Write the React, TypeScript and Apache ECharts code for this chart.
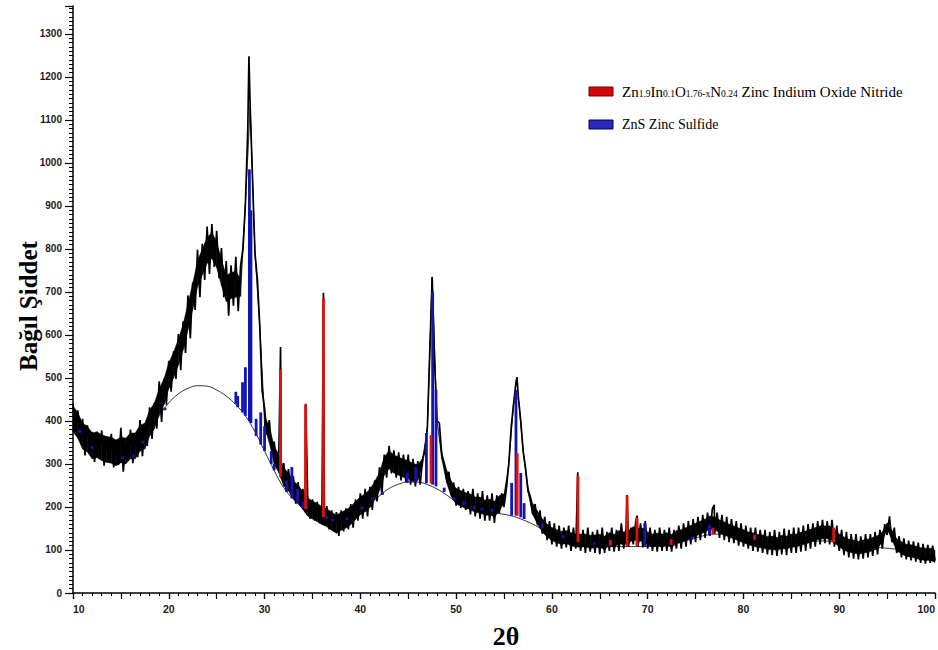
import React, { useEffect, useRef } from "react";
import * as echarts from "echarts";

// ---- Data ----
// Measured pattern, counts every 0.25° (2θ) from 10 to 100
const TRACE_START = 10;
const TRACE_STEP = 0.25;
const traceCounts = [
  440, 375, 425, 355,
  405, 320, 390, 330,
  375, 305, 372, 318,
  378, 296, 355, 312,
  370, 292, 352, 298,
  384, 282, 348, 312,
  380, 302, 368, 316,
  402, 318, 388, 342,
  432, 358, 442, 382,
  492, 398, 498, 438,
  540, 468, 562, 498,
  602, 518, 632, 558,
  692, 592, 722, 658,
  798, 688, 812, 728,
  852, 742, 858, 758,
  842, 732, 802, 688,
  772, 645, 762, 668,
  782, 655, 762, 800,
  905, 1080, 1130, 960,
  790, 730, 620, 470,
  430, 368, 402, 332,
  352, 292, 332, 268,
  302, 238, 288, 228,
  272, 208, 258, 203,
  242, 188, 227, 173,
  218, 168, 212, 162,
  208, 158, 202, 148,
  192, 142, 188, 133,
  192, 143, 197, 148,
  207, 152, 217, 168,
  232, 173, 242, 178,
  247, 193, 262, 213,
  292, 228, 322, 268,
  342, 278, 332, 268,
  327, 262, 322, 258,
  322, 252, 312, 248,
  307, 252, 312, 330,
  385, 560, 735, 540,
  400, 395, 320, 300,
  265, 282, 228, 257,
  203, 247, 198, 242,
  193, 237, 183, 242,
  178, 232, 173, 237,
  168, 227, 168, 232,
  163, 227, 185, 232,
  200, 242, 300, 385,
  440, 490, 455, 400,
  330, 290, 240, 222,
  183, 207, 158, 192,
  138, 177, 123, 167,
  113, 162, 108, 157,
  103, 152, 106, 157,
  98, 152, 103, 142,
  98, 147, 93, 152,
  96, 142, 93, 147,
  90, 152, 93, 142,
  98, 152, 96, 147,
  98, 162, 103, 150,
  108, 152, 113, 165,
  108, 162, 106, 167,
  103, 152, 98, 147,
  96, 152, 98, 147,
  98, 152, 96, 147,
  103, 157, 103, 162,
  108, 167, 113, 172,
  118, 177, 123, 182,
  128, 187, 133, 195,
  138, 187, 128, 182,
  123, 177, 118, 172,
  116, 167, 110, 162,
  108, 157, 103, 152,
  98, 152, 96, 147,
  93, 147, 90, 142,
  88, 147, 86, 142,
  90, 150, 88, 147,
  93, 152, 93, 152,
  96, 157, 98, 160,
  103, 162, 108, 167,
  113, 170, 116, 167,
  113, 170, 108, 157,
  98, 147, 88, 142,
  83, 137, 80, 137,
  78, 132, 80, 137,
  83, 137, 86, 142,
  90, 147, 103, 160,
  135, 178, 118, 152,
  93, 132, 83, 127,
  78, 122, 76, 120,
  73, 117, 70, 114,
  68, 112, 70, 110,
  75,
];

// Sharp reflections (2θ, counts) that fall between the 0.25° samples
const sharpPeaks: [number, number][] = [
  [28.37, 1248],
  [31.67, 572],
  [34.3, 440],
  [36.15, 698],
  [56.35, 502],
  [62.7, 281],
  [67.85, 228],
  [68.9, 180],
  [76.95, 205],
];

// Dense core of the noisy trace: centre and half-spread, every 0.5° from 10 to 100
const BAND_START = 10;
const BAND_STEP = 0.5;
const bandCenter = [
  405, 390, 365, 358, 342, 345, 338, 334, 332, 326,
  333, 330, 342, 342, 360, 365, 395, 412, 445, 468,
  505, 530, 560, 595, 642, 690, 742, 770, 797, 808,
  787, 745, 708, 715, 718, 710, 905, 1130, 790, 620,
  400, 367, 322, 300, 270, 258, 240, 230, 215, 200,
  193, 187, 180, 175, 167, 160, 167, 172, 180, 192,
  203, 210, 220, 238, 260, 295, 310, 300, 295, 290,
  287, 280, 280, 305, 385, 735, 400, 320, 272, 242,
  225, 220, 215, 212, 205, 205, 198, 200, 195, 208,
  220, 300, 440, 455, 330, 240, 195, 175, 157, 145,
  137, 132, 128, 130, 125, 122, 122, 122, 119, 120,
  121, 117, 125, 121, 130, 127, 130, 139, 135, 136,
  127, 122, 124, 122, 125, 121, 130, 132, 137, 142,
  147, 152, 157, 164, 162, 155, 150, 145, 141, 136,
  132, 127, 125, 121, 120, 116, 117, 114, 119, 117,
  122, 122, 126, 129, 133, 137, 141, 141, 141, 132,
  122, 115, 110, 108, 105, 108, 110, 114, 118, 131,
  156, 135, 112, 105, 99, 98, 95, 91, 90, 90,
  85,
];
const bandHalf = [
  30, 30, 30, 30, 30, 30, 30, 30, 30, 30,
  30, 30, 30, 30, 30, 30, 30, 30, 30, 30,
  30, 30, 30, 30, 30, 30, 30, 30, 30, 30,
  30, 30, 30, 30, 30, 20, 0, 0, 0, 0,
  14, 18, 21, 21, 21, 21, 21, 21, 21, 21,
  21, 21, 21, 21, 21, 21, 21, 21, 21, 21,
  21, 21, 21, 21, 21, 21, 21, 21, 21, 21,
  21, 21, 18, 8, 0, 0, 0, 8, 15, 18,
  18, 18, 18, 18, 18, 18, 18, 18, 18, 18,
  10, 0, 0, 0, 0, 6, 13, 15, 15, 15,
  15, 15, 15, 15, 15, 15, 15, 15, 15, 15,
  15, 15, 15, 15, 15, 15, 15, 15, 15, 15,
  15, 15, 15, 15, 15, 15, 15, 15, 15, 15,
  15, 15, 15, 15, 15, 15, 15, 15, 15, 15,
  15, 15, 15, 15, 15, 15, 15, 15, 15, 15,
  15, 15, 15, 15, 15, 15, 15, 15, 15, 15,
  15, 15, 15, 15, 15, 15, 15, 15, 15, 11,
  7, 11, 14, 14, 14, 14, 14, 14, 14, 14,
  14,
];

// Fitted background, counts every 1° from 10 to 100
const BG_START = 10;
const backgroundCounts = [
  395, 362, 337, 322, 314, 312, 318, 340, 375, 412,
  442, 463, 476, 482, 481, 472, 458, 438, 412, 375,
  330, 285, 245, 218, 198, 184, 175, 166, 165, 175,
  190, 208, 226, 243, 253, 258, 258, 252, 242, 228,
  212, 202, 195, 190, 186, 183, 178, 170, 160, 148,
  136, 127, 120, 115, 112, 110, 109, 108, 108, 108,
  108, 110, 113, 117, 122, 128, 134, 137, 136, 133,
  129, 125, 122, 119, 117, 116, 117, 119, 121, 120,
  116, 113, 110, 108, 106, 104, 102, 100, 98, 96,
  95,
];

// Reference sticks: [2θ, bottom, top]
const redSticks: [number, number, number][] = [
  [31.67, 270, 520],
  [34.28, 195, 438],
  [36.15, 176, 685],
  [47.38, 255, 367],
  [56.38, 180, 325],
  [62.72, 118, 272],
  [66.1, 110, 123],
  [67.85, 108, 225],
  [68.88, 108, 175],
  [72.45, 112, 125],
  [76.82, 136, 152],
  [81.15, 124, 135],
  [89.42, 118, 152],
];

const blueSticks: [number, number, number][] = [
  [10.7, 372, 380],
  [12.0, 335, 342],
  [15.2, 312, 318],
  [16.3, 316, 322],
  [17.3, 348, 354],
  [19.6, 425, 431],
  [27.0, 440, 468],
  [27.2, 432, 458],
  [27.7, 420, 490],
  [28.0, 412, 525],
  [28.42, 400, 985],
  [28.58, 395, 890],
  [29.12, 365, 405],
  [29.6, 345, 420],
  [30.0, 330, 388],
  [30.7, 300, 330],
  [31.0, 285, 300],
  [32.3, 235, 262],
  [32.85, 220, 293],
  [33.45, 208, 242],
  [34.0, 198, 212],
  [36.45, 172, 180],
  [37.1, 167, 173],
  [38.6, 170, 176],
  [40.2, 195, 201],
  [41.3, 215, 222],
  [42.3, 228, 236],
  [44.9, 256, 280],
  [45.8, 258, 293],
  [46.9, 255, 372],
  [47.55, 252, 700],
  [47.9, 248, 472],
  [48.75, 235, 245],
  [49.8, 215, 222],
  [50.8, 205, 214],
  [51.9, 195, 203],
  [52.7, 192, 198],
  [53.75, 188, 196],
  [55.8, 180, 256],
  [56.25, 180, 472],
  [56.75, 176, 279],
  [57.1, 172, 209],
  [59.0, 150, 162],
  [61.2, 128, 134],
  [64.4, 112, 118],
  [69.7, 108, 163],
  [74.6, 124, 130],
  [76.45, 134, 158],
];

const xTickInterval = 10;
const yTickInterval = 100;

const LABEL_FONT = '"Liberation Sans Narrow", "Liberation Sans", Arial, sans-serif';
const SERIF = '"Liberation Serif", "Times New Roman", serif';

export default function App() {
  const ref = useRef<HTMLDivElement>(null);

  useEffect(() => {
    document.body.style.margin = "0";
    if (!ref.current) return;
    const chart = echarts.init(ref.current, undefined, { renderer: "svg" });

    const tracePts: [number, number][] = traceCounts.map((v, i) => [
      TRACE_START + i * TRACE_STEP,
      v,
    ]);
    const allTrace = tracePts.concat(sharpPeaks).sort((a, b) => a[0] - b[0]);
    const bgPts = backgroundCounts.map((v, i) => [BG_START + i, v]);

    // band segments: [x0, lo0, hi0, x1, lo1, hi1]
    const bandSegs: number[][] = [];
    for (let i = 0; i < bandCenter.length - 1; i++) {
      const x0 = BAND_START + i * BAND_STEP;
      const x1 = BAND_START + (i + 1) * BAND_STEP;
      bandSegs.push([
        x0, bandCenter[i] - bandHalf[i], bandCenter[i] + bandHalf[i],
        x1, bandCenter[i + 1] - bandHalf[i + 1], bandCenter[i + 1] + bandHalf[i + 1],
      ]);
    }

    const stickSeries = (name: string, data: [number, number, number][], color: string, z: number) => ({
      type: "custom",
      name,
      z,
      data,
      encode: { x: 0, y: [1, 2] },
      renderItem: (params: any, api: any) => {
        const x = api.value(0);
        const p1 = api.coord([x, api.value(1)]);
        const p2 = api.coord([x, api.value(2)]);
        return {
          type: "rect",
          shape: { x: p1[0] - 1.4, y: p2[1], width: 2.8, height: p1[1] - p2[1] },
          style: { fill: color },
        };
      },
    });

    const option: any = {
      animation: false,
      backgroundColor: "#ffffff",
      grid: { left: 73, right: 1, top: 6, bottom: 57 },
      xAxis: [
        {
          type: "value",
          min: 10,
          max: 100,
          interval: xTickInterval,
          axisLine: { show: true, lineStyle: { color: "#000", width: 1.5 } },
          axisTick: { show: true, length: 6, lineStyle: { color: "#000", width: 1.2 } },
          minorTick: { show: true, splitNumber: 10, length: 3, lineStyle: { color: "#000", width: 1 } },
          splitLine: { show: false },
          minorSplitLine: { show: false },
          axisLabel: {
            margin: 10,
            fontSize: 10.5,
            fontWeight: "bold",
            fontFamily: LABEL_FONT,
            color: "#1a1a1a",
            alignMinLabel: "left",
            alignMaxLabel: "right",
            formatter: (v: number) => String(v),
          },
        },
        {
          type: "value",
          min: 10,
          max: 100,
          interval: 5,
          position: "bottom",
          axisLine: { show: false },
          axisTick: { show: true, length: 6, lineStyle: { color: "#000", width: 1.2 } },
          axisLabel: { show: false },
          splitLine: { show: false },
        },
      ],
      yAxis: {
        type: "value",
        min: 0,
        max: 1365,
        interval: yTickInterval,
        axisLine: { show: true, lineStyle: { color: "#000", width: 1.5 } },
        axisTick: { show: true, length: 8, lineStyle: { color: "#000", width: 1.2 } },
        minorTick: { show: true, splitNumber: 10, length: 4, lineStyle: { color: "#000", width: 1 } },
        splitLine: { show: false },
        minorSplitLine: { show: false },
        axisLabel: {
          margin: 11,
          fontSize: 10,
          fontWeight: "bold",
          fontFamily: LABEL_FONT,
          color: "#1a1a1a",
          showMaxLabel: false,
          formatter: (v: number) => String(v),
        },
      },
      series: [
        {
          type: "line",
          name: "background",
          data: bgPts,
          smooth: 0.4,
          showSymbol: false,
          lineStyle: { color: "#333", width: 1 },
          z: 2,
        },
        {
          type: "custom",
          name: "band",
          silent: true,
          z: 3,
          data: bandSegs,
          encode: { x: [0, 3], y: [1, 2, 4, 5] },
          renderItem: (params: any, api: any) => {
            const a = api.coord([api.value(0), api.value(1)]);
            const b = api.coord([api.value(3), api.value(4)]);
            const c = api.coord([api.value(3), api.value(5)]);
            const d = api.coord([api.value(0), api.value(2)]);
            return {
              type: "polygon",
              shape: { points: [a, b, c, d] },
              style: { fill: "#000", stroke: "#000", lineWidth: 0.5 },
            };
          },
        },
        {
          type: "line",
          name: "pattern",
          data: allTrace,
          showSymbol: false,
          lineStyle: { color: "#000", width: 1.7 },
          z: 3,
        },
        stickSeries("ZnS", blueSticks, "#1414b4", 4),
        stickSeries("Zn1.9In0.1O1.76-xN0.24", redSticks, "#e01010", 5),
      ],
      graphic: [
        {
          type: "text",
          x: 28,
          y: 306,
          rotation: Math.PI / 2,
          style: {
            text: "Bağıl Şiddet",
            font: `bold 25px ${SERIF}`,
            fill: "#000",
            align: "center",
            verticalAlign: "middle",
          },
        },
        {
          type: "text",
          x: 506,
          y: 636,
          style: {
            text: "2θ",
            font: `bold 26px ${SERIF}`,
            fill: "#000",
            align: "center",
            verticalAlign: "middle",
          },
        },
        {
          type: "rect",
          shape: { x: 589, y: 87, width: 24, height: 9 },
          style: { fill: "#d40808", stroke: "#7a0000", lineWidth: 1 },
        },
        {
          type: "rect",
          shape: { x: 589, y: 120, width: 24, height: 9 },
          style: { fill: "#2a2ab8", stroke: "#000070", lineWidth: 1 },
        },
        {
          type: "text",
          x: 622,
          y: 91,
          style: {
            text: "{a|Zn}{s|1.9}{a|In}{s|0.1}{a|O}{s|1.76-x}{a|N}{s|0.24}{a| Zinc Indium Oxide Nitride}",
            verticalAlign: "middle",
            align: "left",
            rich: {
              a: { fontFamily: SERIF, fontSize: 15, lineHeight: 16, fill: "#000", color: "#000", verticalAlign: "bottom" },
              s: { fontFamily: SERIF, fontSize: 9.5, lineHeight: 11, fill: "#000", color: "#000", verticalAlign: "bottom" },
            },
          },
        },
        {
          type: "text",
          x: 622,
          y: 124,
          style: {
            text: "ZnS Zinc Sulfide",
            font: `14px ${SERIF}`,
            fill: "#000",
            align: "left",
            verticalAlign: "middle",
          },
        },
      ],
    };

    chart.setOption(option);
    return () => chart.dispose();
  }, []);

  return <div ref={ref} style={{ width: 938, height: 650 }} />;
}
